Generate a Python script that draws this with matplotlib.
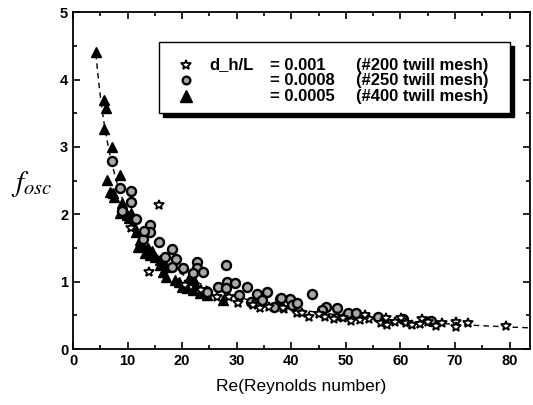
import numpy as np
import matplotlib.pyplot as plt
from matplotlib.patches import Rectangle
from matplotlib.ticker import MultipleLocator

# d_h/L = 0.001 (#200 twill mesh)
re_star = [15.7, 10.7, 13.9, 26.3, 30.3, 34.2, 38.6, 41.0, 38.4, 41.9, 43.3, 46.1, 48.4,
           51.0, 52.5, 47.9, 49.4, 54.3, 56.5, 57.6, 57.4, 60.1, 61.1, 62.2, 64.0, 66.5,
           67.6, 70.2, 70.2, 72.4, 79.3, 20.5, 23.5, 28.5, 33.0, 36.0, 45.0, 53.5, 59.0,
           63.5, 65.0]
f_star = [2.14, 1.80, 1.14, 0.77, 0.68, 0.61, 0.59, 0.53, 0.61, 0.53, 0.47, 0.47, 0.47,
          0.42, 0.43, 0.44, 0.46, 0.45, 0.39, 0.36, 0.46, 0.46, 0.39, 0.36, 0.45, 0.34,
          0.39, 0.40, 0.33, 0.39, 0.34, 0.95, 0.88, 0.78, 0.66, 0.62, 0.52, 0.50, 0.40,
          0.38, 0.40]

# d_h/L = 0.0008 (#250 twill mesh)
re_circ = [7.2, 8.6, 10.6, 10.6, 11.6, 14.1, 14.1, 12.8, 15.7, 16.8, 18.1, 18.8, 18.1,
           20.1, 22.7, 22.7, 21.9, 23.8, 28.0, 26.5, 28.2, 29.6, 28.0, 31.8, 32.7, 33.8,
           35.6, 34.6, 36.9, 38.0, 39.7, 40.2, 38.2, 41.1, 43.7, 46.4, 45.7, 48.4, 50.3,
           51.9, 55.8, 60.5, 65.6, 9.0, 13.0, 24.5, 30.5]
f_circ = [2.79, 2.39, 2.34, 2.18, 1.93, 1.84, 1.74, 1.63, 1.59, 1.37, 1.48, 1.34, 1.22,
          1.20, 1.29, 1.20, 1.13, 1.14, 1.25, 0.92, 1.00, 0.98, 0.91, 0.92, 0.70, 0.82,
          0.85, 0.73, 0.63, 0.74, 0.74, 0.66, 0.76, 0.68, 0.82, 0.62, 0.58, 0.61, 0.53,
          0.53, 0.48, 0.45, 0.42, 2.05, 1.75, 0.85, 0.80]

# d_h/L = 0.0005 (#400 twill mesh)
re_tri = [4.2, 5.7, 6.0, 5.7, 7.1, 6.2, 8.6, 6.8, 7.3, 7.6, 8.9, 8.6, 9.8, 10.7, 9.3,
          11.6, 12.2, 11.9, 12.8, 13.7, 14.1, 15.0, 14.5, 15.9, 17.1, 15.9, 16.5, 17.1,
          18.6, 19.9, 20.8, 21.9, 23.2, 24.5, 21.0, 21.9, 19.5, 22.5, 27.4, 11.0, 10.2,
          13.2]
f_tri = [4.41, 3.69, 3.58, 3.26, 3.00, 2.51, 2.58, 2.33, 2.31, 2.25, 2.17, 2.02, 1.99,
         2.02, 2.08, 1.74, 1.62, 1.52, 1.55, 1.50, 1.39, 1.37, 1.45, 1.25, 1.22, 1.32,
         1.15, 1.07, 1.02, 0.92, 0.90, 0.88, 0.83, 0.80, 1.02, 1.05, 1.00, 0.95, 0.73,
         1.85, 1.95, 1.42]

# power-law fit f = a * Re^b
fit_a = 15.5
fit_b = -0.88

fig = plt.figure(figsize=(5.33, 4.05), dpi=100)
ax = fig.add_axes([0.137, 0.138, 0.857, 0.832])

re_fit = np.linspace(4.2, 84, 300)
ax.plot(re_fit, fit_a * re_fit ** fit_b, 'k--', lw=1.0, dashes=(4, 3))

star_kw = dict(marker='*', mfc='white', mec='k', mew=1.3, ms=7.5, ls='none')
circ_kw = dict(marker='o', mfc='#a8a8a8', mec='k', mew=1.7, ms=6.5, ls='none')
tri_kw = dict(marker='^', color='k', ms=7, ls='none')

ax.plot(re_tri, f_tri, **tri_kw)
ax.plot(re_circ, f_circ, **circ_kw)
ax.plot(re_star, f_star, **star_kw)

ax.set_xlim(0, 83.7)
ax.set_ylim(0, 5)
ax.xaxis.set_major_locator(MultipleLocator(10))
ax.xaxis.set_minor_locator(MultipleLocator(5))
ax.yaxis.set_major_locator(MultipleLocator(1))
ax.yaxis.set_minor_locator(MultipleLocator(0.5))
ax.tick_params(which='both', direction='in', top=True, right=True, width=1.2)
ax.tick_params(which='major', length=5, labelsize=10.5)
ax.tick_params(which='minor', length=3)
for lab in ax.get_xticklabels() + ax.get_yticklabels():
    lab.set_fontweight('bold')
    lab.set_family('Liberation Sans')
for sp in ax.spines.values():
    sp.set_linewidth(1.3)

ax.set_xlabel('Re(Reynolds number)', fontsize=12.5, family='Liberation Sans', labelpad=8)
fig.text(0.02, 0.545, r'$f_{osc}$', fontsize=21, family='serif', math_fontfamily='stix',
         ha='left', va='center')

# legend box with black shadow
sh = Rectangle((0.197, 0.689), 0.768, 0.211, transform=ax.transAxes, fc='k', ec='k', zorder=4)
bx = Rectangle((0.188, 0.700), 0.768, 0.211, transform=ax.transAxes, fc='white', ec='k',
               lw=1.0, zorder=5)
ax.add_patch(sh)
ax.add_patch(bx)

rows = [0.843, 0.798, 0.751]
ax.plot(0.247, rows[0], transform=ax.transAxes, zorder=6, **star_kw)
ax.plot(0.247, rows[1], transform=ax.transAxes, zorder=6, **dict(circ_kw, ms=5.5))
ax.plot(0.247, rows[2], transform=ax.transAxes, zorder=6, **dict(tri_kw, ms=8))
leg_col1 = ['d_h/L', '', '']
leg_col2 = ['= 0.001', '= 0.0008', '= 0.0005']
leg_col3 = ['(#200 twill mesh)', '(#250 twill mesh)', '(#400 twill mesh)']
for y, t1, t2, t3 in zip(rows, leg_col1, leg_col2, leg_col3):
    for x, t in ((0.298, t1), (0.431, t2), (0.619, t3)):
        ax.text(x, y, t, transform=ax.transAxes, fontsize=12, fontweight='bold',
                family='Liberation Sans', va='center', ha='left', zorder=6)

fig.savefig('out.png', dpi=100)
